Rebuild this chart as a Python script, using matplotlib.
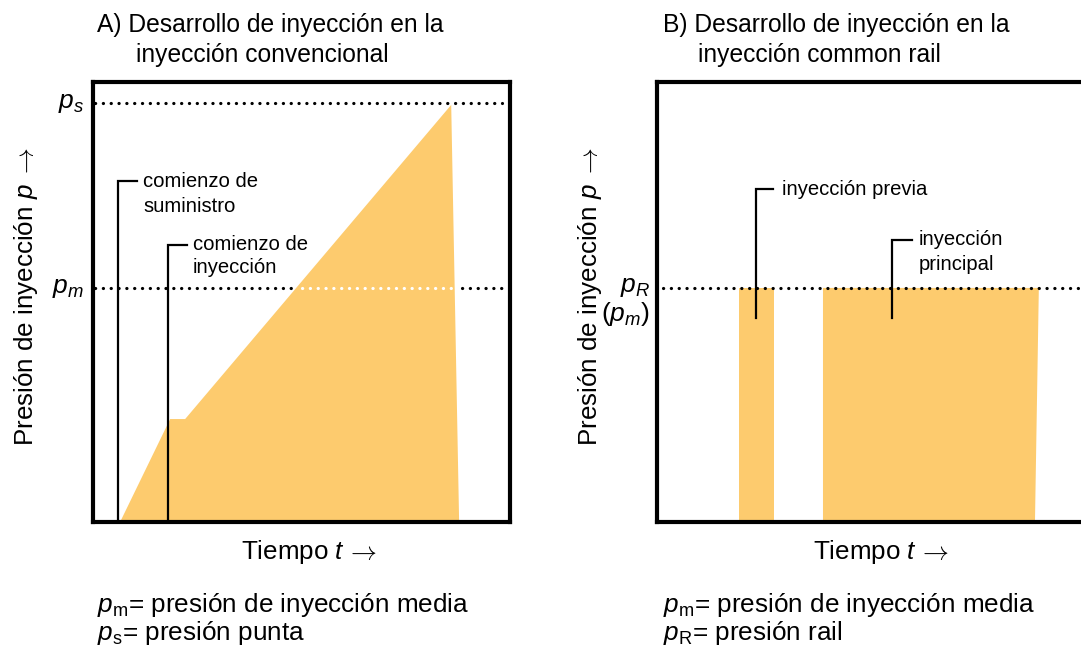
import matplotlib
matplotlib.use("Agg")
from matplotlib import pyplot as plt
import numpy as np

plt.rcParams['font.family'] = ['Liberation Sans', 'DejaVu Sans']
plt.rcParams['mathtext.fontset'] = 'custom'
plt.rcParams['mathtext.rm'] = 'Liberation Sans'
plt.rcParams['mathtext.it'] = 'Liberation Sans:italic'
plt.rcParams['mathtext.bf'] = 'Liberation Sans:bold'

# --- data (time and pressure on a 0..100 scale) ---
# A) conventional injection: pressure rises until peak, then drops
conv_t = [6.5, 18.5, 22.1, 85.9, 87.8]
conv_p = [0.0, 23.4, 23.4, 94.8, 0.0]
p_s = 95.3
p_m = 53.2
supply_start = 6.0
injection_start = 18.0

# B) common rail: pilot and main injection at rail pressure
p_R = 53.2
pilot_t = [19.1, 27.2, 27.2, 19.1]
main_t = [38.6, 87.9, 88.8, 38.6]
pilot_mark = 23.0
main_mark = 54.7

FILL = '#FDCB6E'
W, H = 1081, 650
NOTE = 14.6


def fig_box(x0, y0, x1, y1):
    return [x0 / W, 1 - y1 / H, (x1 - x0) / W, (y1 - y0) / H]


def dotted(ax, x0, x1, y, color='black'):
    ax.plot([x0, x1], [y, y], color=color, lw=2.3, linestyle=(0, (0.05, 2.4)),
            dash_capstyle='round', clip_on=False, zorder=4)


def leader(ax, x, y0, y1, xend):
    ax.plot([x, x, xend], [y0, y1, y1], color='black', lw=1.6, zorder=5,
            solid_joinstyle='miter', clip_on=False)


fig = plt.figure(figsize=(W / 100, H / 100), dpi=100)

# ---------------- panel A ----------------
ax1 = fig.add_axes(fig_box(93, 82, 510, 522))
ax1.fill(conv_t + [conv_t[0]], conv_p + [conv_p[0]], color=FILL, lw=0, zorder=2)
dotted(ax1, 0.5, 98, p_s)
# pm line: black outside the fill, white inside it
x_cross = np.interp(p_m, conv_p[2:4], conv_t[2:4])
dotted(ax1, 0.5, x_cross, p_m)
dotted(ax1, x_cross + 1.5, 87.0, p_m, color='white')
dotted(ax1, 88.5, 98, p_m)
leader(ax1, supply_start, 0, 77.5, 10.6)
ax1.text(12.0, 76.1, 'comienzo de', fontsize=NOTE, va='baseline', ha='left')
ax1.text(12.0, 70.5, 'suministro', fontsize=NOTE, va='baseline', ha='left')
leader(ax1, injection_start, 0, 63.0, 22.5)
ax1.text(24.0, 61.8, 'comienzo de', fontsize=NOTE, va='baseline', ha='left')
ax1.text(24.0, 56.6, 'inyección', fontsize=NOTE, va='baseline', ha='left')
ax1.text(-2.2, p_s, r'$p_s$', fontsize=19, ha='right', va='center')
ax1.text(-2.2, p_m, r'$p_m$', fontsize=19, ha='right', va='center')

# ---------------- panel B ----------------
ax2 = fig.add_axes(fig_box(657, 82, 1087, 522))
ax2.fill(pilot_t, [0, 0, p_R, p_R], color=FILL, lw=0, zorder=2)
ax2.fill(main_t, [0, 0, p_R, p_R], color=FILL, lw=0, zorder=2)
dotted(ax2, 1.4, 100, p_R)
leader(ax2, pilot_mark, 46.4, 75.7, 27.0)
ax2.text(29.1, 74.3, 'inyección previa', fontsize=NOTE, va='baseline', ha='left')
leader(ax2, main_mark, 46.4, 64.1, 59.3)
ax2.text(60.9, 63.0, 'inyección', fontsize=NOTE, va='baseline', ha='left')
ax2.text(60.9, 57.3, 'principal', fontsize=NOTE, va='baseline', ha='left')
ax2.text(-1.6, p_R + 0.3, r'$p_R$', fontsize=19, ha='right', va='center')
ax2.text(-1.6, p_R - 6.0, r'$(p_m)$', fontsize=19, ha='right', va='center')

for ax in (ax1, ax2):
    ax.set_xlim(0, 100)
    ax.set_ylim(0, 100)
    ax.set_xticks([])
    ax.set_yticks([])
    for s in ax.spines.values():
        s.set_linewidth(3)
        s.set_zorder(6)


# ---------------- titles, axis labels, notes ----------------
def ftext(x, y, s, **kw):
    return fig.text(x / W, 1 - y / H, s, **kw)


ftext(97, 32, 'A) Desarrollo de inyección en la', fontsize=17.7, va='baseline')
ftext(136, 62, 'inyección convencional', fontsize=17.7, va='baseline')
ftext(663, 32, 'B) Desarrollo de inyección en la', fontsize=17.7, va='baseline')
ftext(698, 62, 'inyección common rail', fontsize=17.7, va='baseline')

LAB = 18.7
ARROW = r'$\rightarrow$'
# y labels: words in Liberation Sans, thin arrow from the cm math font
for xb in (33, 597):
    ftext(xb, 183, r'Presión de inyección $p$', fontsize=LAB, rotation=90,
          rotation_mode='anchor', ha='right', va='baseline')
    ftext(xb, 178, ARROW, fontsize=LAB, rotation=90, math_fontfamily='cm',
          rotation_mode='anchor', ha='left', va='baseline')
# x labels
for xe in (345, 917):
    ftext(xe, 559, r'Tiempo $t$', fontsize=LAB, ha='right', va='baseline')
    ftext(xe + 1, 559, ARROW, fontsize=LAB, math_fontfamily='cm',
          ha='left', va='baseline')

FOOT = 18.8
ftext(97, 605, r'$p_\mathrm{m}$= presión de inyección media', fontsize=FOOT, va='center')
ftext(97, 633, r'$p_\mathrm{s}$= presión punta', fontsize=FOOT, va='center')
ftext(663, 605, r'$p_\mathrm{m}$= presión de inyección media', fontsize=FOOT, va='center')
ftext(663, 633, r'$p_\mathrm{R}$= presión rail', fontsize=FOOT, va='center')

fig.savefig('out.png', dpi=100)
